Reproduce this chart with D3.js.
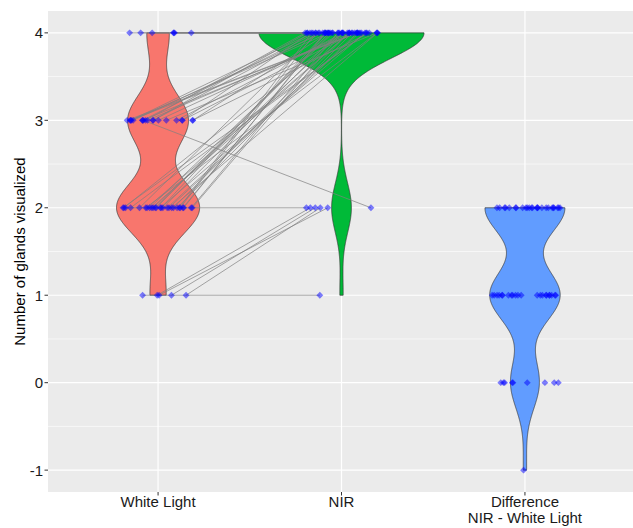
<!DOCTYPE html>
<html>
<head>
<meta charset="utf-8">
<script src="https://cdn.jsdelivr.net/npm/d3@7"></script>
<style>
  body { margin: 0; background: #fff; }
  text { font-family: "Liberation Sans", Arial, sans-serif; }
</style>
</head>
<body>
<div id="main"></div>
<script>
// paired observations, one entry per subject
const whiteLight = [2,3,2,4,2,3,1,2,3,2, 3,2,4,2,3,2,1,3,2,2, 3,4,2,3,2,1,3,2,3,2,
                    4,2,3,3,2,1,2,3,2,4, 3,2,2,3,1,2,3,2,4,3, 2,3,2,3,4,2,2];
const nir        = [4,4,4,4,4,4,2,4,4,2, 4,4,4,4,4,4,2,4,4,4, 2,4,4,4,4,1,4,4,4,4,
                    4,4,4,4,4,2,4,4,4,4, 4,4,4,4,2,4,4,4,4,4, 4,4,4,4,4,4,4];
const categories = ["White Light", "NIR", "Difference"];
const categoryLabels = [["White Light"], ["NIR"], ["Difference", "NIR - White Light"]];
const yTicks = [-1, 0, 1, 2, 3, 4];
const violinColors = ["#F8766D", "#00BA38", "#619CFF"];

function main() {
  const svgWidth = 633, svgHeight = 528;
  const panelLeft = 48, panelRight = 635, panelTop = 11, panelBottom = 492;

  const svg = d3.select("#main").append("svg")
    .attr("width", svgWidth).attr("height", svgHeight);

  const difference = nir.map((d, i) => d - whiteLight[i]);
  const groups = [whiteLight, nir, difference];

  const x = d3.scalePoint().domain(categories).range([panelLeft, panelRight]).padding(0.6);
  const step = x.step();
  const y = d3.scaleLinear().domain([-1.25, 4.25]).range([panelBottom, panelTop]);

  // panel background + grid
  svg.append("rect").attr("x", panelLeft).attr("y", panelTop)
    .attr("width", panelRight - panelLeft).attr("height", panelBottom - panelTop)
    .attr("fill", "#EBEBEB");
  const minor = d3.range(-1, 4.5, 1).map(d => d + 0.5).filter(d => d < 4.25);
  svg.append("g").selectAll("line").data(minor).enter().append("line")
    .attr("x1", panelLeft).attr("x2", panelRight)
    .attr("y1", d => y(d)).attr("y2", d => y(d))
    .attr("stroke", "#fff").attr("stroke-width", 0.6);
  svg.append("g").selectAll("line").data(yTicks).enter().append("line")
    .attr("x1", panelLeft).attr("x2", panelRight)
    .attr("y1", d => y(d)).attr("y2", d => y(d))
    .attr("stroke", "#fff").attr("stroke-width", 1.2);
  svg.append("g").selectAll("line").data(categories).enter().append("line")
    .attr("y1", panelTop).attr("y2", panelBottom)
    .attr("x1", d => x(d)).attr("x2", d => x(d))
    .attr("stroke", "#fff").attr("stroke-width", 1.2);

  // kernel density (gaussian, bw.nrd0, trimmed to data range)
  function bwNrd0(v) {
    const s = v.slice().sort(d3.ascending);
    const hi = d3.deviation(s);
    let lo = Math.min(hi, (d3.quantile(s, 0.75) - d3.quantile(s, 0.25)) / 1.34);
    if (!lo) lo = hi || Math.abs(s[0]) || 1;
    return 0.9 * lo * Math.pow(s.length, -0.2);
  }
  const dens = groups.map(v => {
    const bw = bwNrd0(v), n = v.length;
    const lo = d3.min(v), hi = d3.max(v);
    return d3.range(512).map(i => {
      const yy = lo + (hi - lo) * i / 511;
      const k = d3.sum(v, xi => Math.exp(-0.5 * ((yy - xi) / bw) ** 2));
      return { y: yy, d: k / (n * bw * Math.sqrt(2 * Math.PI)) };
    });
  });
  const maxD = d3.max(dens, g => d3.max(g, p => p.d));

  dens.forEach((g, gi) => {
    const cx = x(categories[gi]);
    const area = d3.area()
      .y(p => y(p.y))
      .x0(p => cx - p.d / maxD * 0.45 * step)
      .x1(p => cx + p.d / maxD * 0.45 * step);
    svg.append("path").datum(g).attr("d", area)
      .attr("fill", violinColors[gi]).attr("stroke", "#333").attr("stroke-width", 0.7);
  });

  // jitter (position_jitter width 0.2), one seeded stream per group;
  // seeds are picked so the lone points land roughly where they do in the figure
  const iDrop = difference.indexOf(-1), iOne = nir.indexOf(1);
  const otherNir2 = nir.map((d, i) => i).filter(i => nir[i] === 2 && i !== iDrop);
  const tests = [
    j => Math.abs(j[iDrop] + 0.04) < 0.05,
    j => j[iDrop] > 0.15 && j[iOne] < -0.05 && j[iOne] > -0.12 && otherNir2.every(i => j[i] < -0.05),
    j => Math.abs(j[iDrop]) < 0.03
  ];
  const jit = groups.map((v, gi) => {
    let first = null;
    for (let s = 1; s < 200000; s++) {
      const rnd = d3.randomUniform.source(d3.randomLcg(s / 200000 + gi * 0.0000013))(-0.2, 0.2);
      const j = v.map(() => rnd());
      if (!first) first = j;
      if (tests[gi](j)) return j;
    }
    return first;
  });
  const pts = groups.map((v, gi) => v.map((val, i) => ({
    cx: x(categories[gi]) + jit[gi][i] * step, cy: y(val)
  })));

  // pair lines White Light -> NIR
  svg.append("g").selectAll("line").data(whiteLight).enter().append("line")
    .attr("x1", (d, i) => pts[0][i].cx).attr("y1", (d, i) => pts[0][i].cy)
    .attr("x2", (d, i) => pts[1][i].cx).attr("y2", (d, i) => pts[1][i].cy)
    .attr("stroke", "#808080").attr("stroke-width", 0.7);

  const diamond = d3.symbol().type(d3.symbolDiamond2).size(30);
  pts.forEach(g => {
    svg.append("g").selectAll("path").data(g).enter().append("path")
      .attr("d", diamond)
      .attr("transform", p => "translate(" + p.cx + "," + p.cy + ")")
      .attr("fill", "#0000FF").attr("fill-opacity", 0.5);
  });

  // axes
  svg.append("g").selectAll("line").data(yTicks).enter().append("line")
    .attr("x1", panelLeft - 3.5).attr("x2", panelLeft)
    .attr("y1", d => y(d)).attr("y2", d => y(d))
    .attr("stroke", "#333").attr("stroke-width", 1);
  svg.append("g").selectAll("text").data(yTicks).enter().append("text")
    .attr("x", panelLeft - 5).attr("y", d => y(d))
    .attr("dy", "0.36em").attr("text-anchor", "end")
    .attr("font-size", 15).attr("fill", "#1a1a1a")
    .text(d => d);
  svg.append("g").selectAll("line").data(categories).enter().append("line")
    .attr("x1", d => x(d)).attr("x2", d => x(d))
    .attr("y1", panelBottom).attr("y2", panelBottom + 3.5)
    .attr("stroke", "#333").attr("stroke-width", 1);
  categoryLabels.forEach((lines, i) => {
    svg.append("text")
      .attr("x", x(categories[i])).attr("y", 507)
      .attr("text-anchor", "middle").attr("font-size", 15).attr("fill", "#1a1a1a")
      .selectAll("tspan").data(lines).enter().append("tspan")
      .attr("x", x(categories[i])).attr("dy", (d, j) => j ? 16 : 0)
      .text(d => d);
  });

  svg.append("text")
    .attr("transform", "translate(25," + ((panelTop + panelBottom) / 2) + ") rotate(-90)")
    .attr("text-anchor", "middle").attr("font-size", 15).attr("fill", "#000")
    .text("Number of glands visualized");
}
main();
</script>
</body>
</html>
